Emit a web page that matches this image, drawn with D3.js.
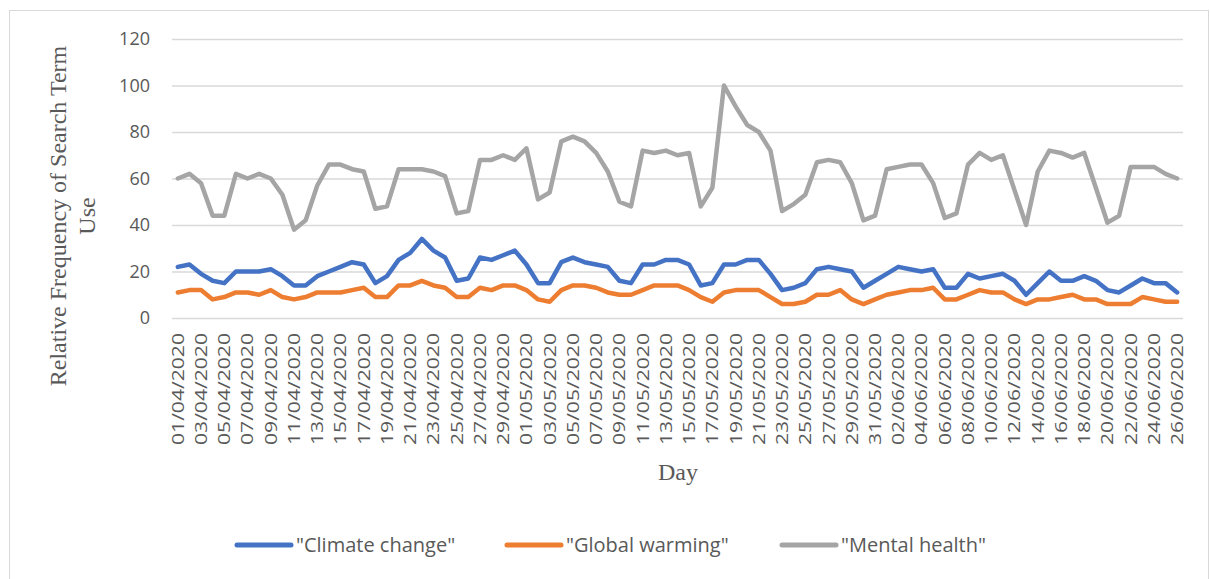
<!DOCTYPE html>
<html>
<head>
<meta charset="utf-8">
<script src="https://cdn.jsdelivr.net/npm/d3@7"></script>
<style>
  body { margin: 0; background: #fff; }
  svg { display: block; }
</style>
</head>
<body>
<svg id="chart" width="1210" height="579"></svg>
<script>
// daily values, 01/04/2020 .. 26/06/2020
var climate = [22,23,19,16,15,20,20,20,21,18,14,14,18,20,22,24,23,15,18,25,28,34,29,26,16,17,26,25,27,29,
  23,15,15,24,26,24,23,22,16,15,23,23,25,25,23,14,15,23,23,25,25,19,12,13,15,21,22,21,20,13,
  16,19,22,21,20,21,13,13,19,17,18,19,16,10,15,20,16,16,18,16,12,11,14,17,15,15,11];
var warming = [11,12,12,8,9,11,11,10,12,9,8,9,11,11,11,12,13,9,9,14,14,16,14,13,9,9,13,12,14,14,
  12,8,7,12,14,14,13,11,10,10,12,14,14,14,12,9,7,11,12,12,12,9,6,6,7,10,10,12,8,6,
  8,10,11,12,12,13,8,8,10,12,11,11,8,6,8,8,9,10,8,8,6,6,6,9,8,7,7];
var mental = [60,62,58,44,44,62,60,62,60,53,38,42,57,66,66,64,63,47,48,64,64,64,63,61,45,46,68,68,70,68,
  73,51,54,76,78,76,71,63,50,48,72,71,72,70,71,48,56,100,91,83,80,72,46,49,53,67,68,67,58,42,
  44,64,65,66,66,58,43,45,66,71,68,70,55,40,63,72,71,69,71,56,41,44,65,65,65,62,60];

var seriesNames = ['"Climate change"', '"Global warming"', '"Mental health"'];
var seriesColors = ["#4472c4", "#ed7d31", "#a5a5a5"];
var yTicks = [0, 20, 40, 60, 80, 100, 120];

var fmt = d3.timeFormat("%d/%m/%Y");
var days = d3.timeDay.range(new Date(2020, 3, 1), new Date(2020, 5, 27)).map(fmt);

var svg = d3.select("#chart");

// outer chart border
svg.append("rect")
  .attr("x", 9.5).attr("y", 10.5)
  .attr("width", 1199).attr("height", 600)
  .attr("fill", "none")
  .attr("stroke", "#d9d9d9");

var x = d3.scaleBand().domain(days).range([172, 1183]).padding(0);
var y = d3.scaleLinear().domain([0, 120]).range([318, 39]);
var cx = function(d) { return x(d) + x.bandwidth() / 2; };

// gridlines + y labels
var yAxis = svg.append("g")
  .attr("transform", "translate(172,0)")
  .call(d3.axisLeft(y).tickValues(yTicks).tickSize(-1011).tickPadding(22));
yAxis.select(".domain").remove();
yAxis.selectAll(".tick line").attr("stroke", "#d9d9d9").attr("stroke-width", 1.5);
yAxis.selectAll(".tick text")
  .attr("fill", "#595959")
  .style("font-family", "'Open Sans', sans-serif")
  .style("font-size", "18px");

// x labels every second day
var xAxis = svg.append("g")
  .attr("transform", "translate(0,318)")
  .call(d3.axisBottom(x).tickValues(days.filter(function(d, i) { return i % 2 === 0; })).tickSize(0));
xAxis.select(".domain").remove();
xAxis.selectAll(".tick text")
  .attr("fill", "#595959")
  .style("font-family", "'Open Sans', sans-serif")
  .style("font-size", "17px")
  .attr("text-anchor", "end")
  .attr("dy", "0.35em")
  .attr("x", -15)
  .attr("y", 0)
  .attr("transform", "rotate(-90)")
  .attr("textLength", 112)
  .attr("lengthAdjust", "spacingAndGlyphs");

// lines
var allSeries = [climate, warming, mental];
var line = d3.line()
  .x(function(d, i) { return cx(days[i]); })
  .y(function(d) { return y(d); });

svg.selectAll(".series")
  .data(allSeries)
  .enter()
  .append("path")
  .attr("class", "series")
  .attr("d", function(d) { return line(d); })
  .attr("fill", "none")
  .attr("stroke", function(d, i) { return seriesColors[i]; })
  .attr("stroke-width", 4.5)
  .attr("stroke-linejoin", "round")
  .attr("stroke-linecap", "round");

// axis titles
svg.append("text")
  .attr("transform", "translate(66,216) rotate(-90)")
  .attr("text-anchor", "middle")
  .attr("fill", "#595959")
  .style("font-family", "'Liberation Serif', serif")
  .style("font-size", "24px")
  .text("Relative Frequency of Search Term");
svg.append("text")
  .attr("transform", "translate(95,216) rotate(-90)")
  .attr("text-anchor", "middle")
  .attr("fill", "#595959")
  .style("font-family", "'Liberation Serif', serif")
  .style("font-size", "24px")
  .text("Use");
svg.append("text")
  .attr("x", 678).attr("y", 480)
  .attr("text-anchor", "middle")
  .attr("fill", "#595959")
  .style("font-family", "'Liberation Serif', serif")
  .style("font-size", "24px")
  .text("Day");

// legend
var legendX = [235, 505, 780];
var legend = svg.selectAll(".legend")
  .data(seriesNames)
  .enter()
  .append("g")
  .attr("class", "legend")
  .attr("transform", function(d, i) { return "translate(" + legendX[i] + ",545)"; });

legend.append("line")
  .attr("x1", 2).attr("x2", 56)
  .attr("stroke", function(d, i) { return seriesColors[i]; })
  .attr("stroke-width", 5)
  .attr("stroke-linecap", "round");

legend.append("text")
  .attr("x", 61)
  .attr("dy", "0.35em")
  .attr("fill", "#595959")
  .style("font-family", "'Open Sans', sans-serif")
  .style("font-size", "20px")
  .text(function(d) { return d; });
</script>
</body>
</html>
